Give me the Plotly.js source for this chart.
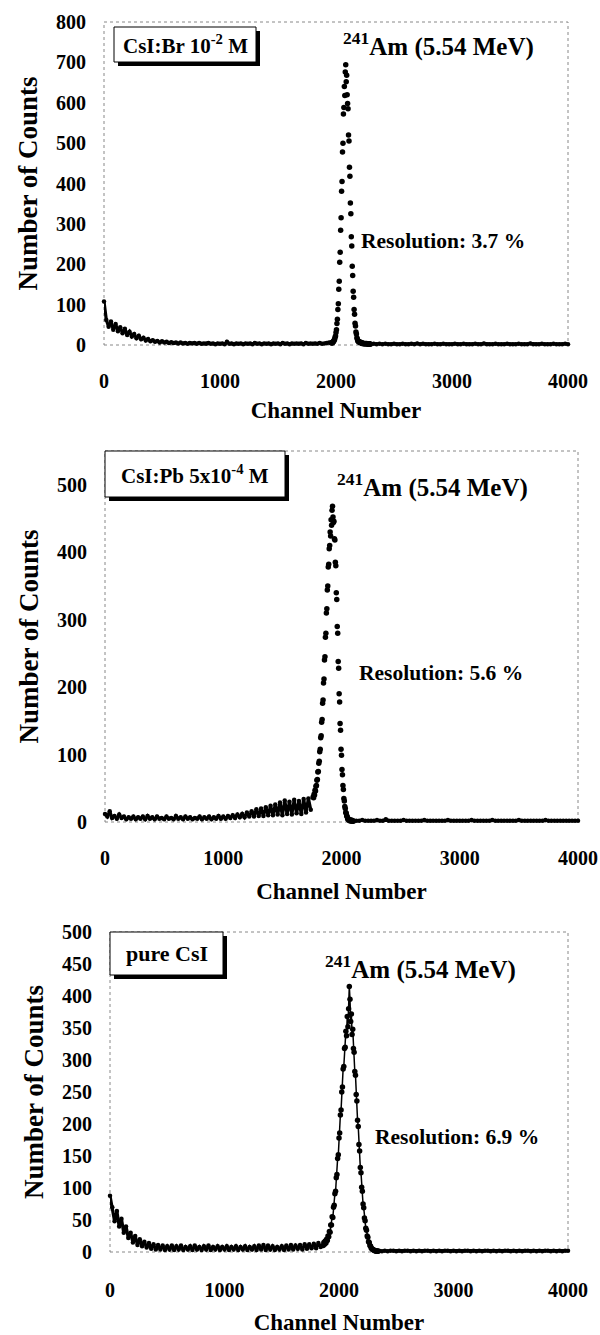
<!DOCTYPE html>
<html>
<head>
<meta charset="utf-8">
<script src="https://cdn.plot.ly/plotly-3.0.1.min.js"></script>
<style>html,body{margin:0;padding:0;background:#fff;}#chart{width:600px;height:1335px;}</style>
</head>
<body>
<div id="chart"></div>
<script>
// ---------- DATA ----------
// Panel 1: CsI:Br 10^-2 M
const brBgStart = 0, brBgStep = 20;
const brBgCounts = [108,62,45,58,38,52,34,44,29,40, 25,33,21,27,17,23,14,18,11,15, 9,12,8,10,6,9,6,8,5,7, 5,6,4,6,4,5,3,5,4,5, 3,5,3,4,3,5,3,4,2,4, 3,4,2,8,3,4,2,4,3,4, 2,4,3,4,2,5,3,4,2,4, 3,4,2,4,3,4,2,5,3,4, 2,4,3,4,3,4,2,5,3,4, 3,4,3,5,3,4,5,6];
const brPeakStart = 1960, brPeakStep = 4;
const brPeakCounts = [5,6,5,7,8,9,12,14,19,22, 31,38,53,64,88,102,138,158,205,230, 284,315,381,405,478,500,572,588,640,618, 676,694,
  652,668,620,598,585,520,505,440,418,352, 325,268,245,195,172,133,118,88,76,54, 47,32,27,18,15,10,10,8,7,8, 6,6,5,6,4,5,4,4,3,4, 3,4,3,3,4,3,3,2,3,3, 2,3,2];
const brTailStart = 2325, brTailStep = 25;
const brTailCounts = [3,2,3,2,3,2,2,3,2,2, 3,2,2,3,2,4,2,3,2,2, 2,3,2,2,3,2,2,2,3,2, 2,3,2,2,2,3,2,2,4,2, 2,2,3,2,2,2,3,2,2,2, 3,2,2,2,4,2,2,2,3,2, 2,2,3,2,2,2,3,2];

// Panel 2: CsI:Pb 5x10^-4 M
const pbBgStart = 0, pbBgStep = 20;
const pbBgCounts = [12,8,16,6,9,5,11,6,8,4, 7,5,8,4,7,5,8,4,9,5, 7,4,8,5,6,4,8,5,6,4, 9,5,7,4,8,5,7,4,6,5, 8,4,7,5,8,4,7,5,9,5,
  8,5,9,6,10,6,11,7,12,7, 14,8,16,8,19,9,20,9,22,10, 24,10,26,11,29,10,32,12,30,11, 33,13,31,12,34,14,35,18];
const pbPeakStart = 1760, pbPeakStep = 4;
const pbPeakCounts = [37,36,41,40,47,46,53,54,62,63, 74,75,87,90,104,108,125,128,148,152, 176,181,206,212,240,245,274,280,310,316, 344,350,378,382,405,410,430,424,448,440, 462,468,
  452,444,446,420,418,385,380,340,330,290, 280,238,228,190,178,146,136,108,99,78, 70,54,48,35,31,23,20,14,13,9, 8,5,4,3,4,2,3,2,2,3, 1,2,2,1];
const pbTailStart = 2125, pbTailStep = 25;
const pbTailCounts = [2,2,3,2,2,2,2,3,2,2, 4,2,2,2,2,2,3,2,2,2, 2,2,2,3,2,2,2,2,2,2, 2,3,2,2,2,2,2,2,2,3, 2,2,2,2,2,2,3,2,2,2, 2,2,2,2,2,3,2,2,2,2, 2,2,2,2,3,2,2,2,2,2, 2,2,2,2,2,2];

// Panel 3: pure CsI
const pureBgStart = 0, pureBgStep = 20;
const pureBgCounts = [88,70,48,64,40,52,30,40,22,30, 15,25,11,20,9,16,7,14,5,12, 4,11,4,10,3,9,4,10,3,9, 4,10,3,8,4,9,3,10,4,8, 3,9,4,10,3,8,4,9,3,8, 4,9,3,8,4,9,3,8,4,9, 3,8,4,9,3,10,4,11,3,10, 4,9,3,8,4,9,3,10,4,11, 4,10,5,11,4,12,5,12,6,13, 6,14,8];
const purePeakStart = 1862, purePeakStep = 6;
const purePeakCounts = [10,15,12,17,14,20,18,25,24,32, 31,42,42,55,54,70,73,91,95,116, 121,146,152,178,186,214,222,250,258,286, 290,318,320,345,338,368,352,380, 415,
  395,360,372,340,348,318,312,282,276,246, 236,206,196,168,158,132,124,101,95,75, 69,53,49,37,34,25,23,16,15,10, 9,6,5,4,3,3,2,2,1,2, 1,1];
const pureTailStart = 2350, pureTailStep = 25;
const pureTailCounts = [2,1,2,1,2,2,1,2,1,2, 2,1,2,1,2,1,2,2,1,2, 1,2,1,2,2,1,2,1,2,1, 2,2,1,2,1,2,1,2,2,1, 2,1,2,1,2,2,1,2,1,2, 1,2,2,1,2,1,2,1,2,2, 1,2,1,2,1,2,2];

const xTicks = [0, 1000, 2000, 3000, 4000];
const xTickText = ['0', '1000', '2000', '3000', '4000'];
const panelLabels = ['CsI:Br 10<sup>-2</sup> M', 'CsI:Pb 5x10<sup>-4</sup> M', 'pure CsI'];
const peakLabel = '<sup>241</sup>Am (5.54 MeV)';
const resolutionLabels = ['Resolution: 3.7 %', 'Resolution: 5.6 %', 'Resolution: 6.9 %'];
const xTitle = 'Channel Number';
const yTitle = 'Number of Counts';

// ---------- BUILD ----------
function segment(start, step, counts) {
  const x = [], y = [];
  counts.forEach((c, i) => { x.push(start + step * i); y.push(c); });
  return {x, y};
}
// continuum = background + gap + tail (dense band), peak = separate dots
function continuum(bg, tail) {
  return {x: [...bg.x, null, ...tail.x], y: [...bg.y, null, ...tail.y]};
}
const cont = [
  continuum(segment(brBgStart, brBgStep, brBgCounts), segment(brTailStart, brTailStep, brTailCounts)),
  continuum(segment(pbBgStart, pbBgStep, pbBgCounts), segment(pbTailStart, pbTailStep, pbTailCounts)),
  continuum(segment(pureBgStart, pureBgStep, pureBgCounts), segment(pureTailStart, pureTailStep, pureTailCounts))
];
const peaks = [
  segment(brPeakStart, brPeakStep, brPeakCounts),
  segment(pbPeakStart, pbPeakStep, pbPeakCounts),
  segment(purePeakStart, purePeakStep, purePeakCounts)
];
const peakLineWidth = [0, 0, 1.5];

const FONT = 'Liberation Serif, Times New Roman, serif';
const traces = [];
[0, 1, 2].forEach(i => {
  const n = i === 0 ? '' : String(i + 1);
  traces.push({x: cont[i].x, y: cont[i].y, mode: 'lines+markers', connectgaps: false,
    line: {color: '#000', width: 3.2}, marker: {color: '#000', size: 4.5},
    xaxis: 'x' + n, yaxis: 'y' + n, cliponaxis: false});
  traces.push({x: peaks[i].x, y: peaks[i].y, mode: peakLineWidth[i] ? 'lines+markers' : 'markers',
    line: {color: '#000', width: peakLineWidth[i] || 1},
    marker: {color: '#000', size: 5.5, symbol: 'circle'},
    xaxis: 'x' + n, yaxis: 'y' + n, cliponaxis: false});
});

const W = 600, H = 1335;
const px = v => v / W;
const py = v => 1 - v / H;

// panel geometry in pixels: left, right, top, bottom
const P = [
  {l: 104, r: 568, t: 22, b: 345, ymax: 800, ytop: 800, dtick: 100, xlab: 22, xtit: 10},
  {l: 105, r: 578, t: 451, b: 822, ymax: 550, ytop: 500, dtick: 100, xlab: 22, xtit: 14},
  {l: 110, r: 568, t: 932, b: 1252, ymax: 500, ytop: 500, dtick: 50, xlab: 24, xtit: 14}
];

const tickFont = {family: FONT, size: 20, color: '#000', weight: 700};
const xTitleFont = {family: FONT, size: 23, color: '#000', weight: 700};
const yTitleFont = {family: FONT, size: 27, color: '#000', weight: 700};

const layout = {
  width: W, height: H,
  margin: {l: 0, r: 0, t: 0, b: 0},
  paper_bgcolor: '#fff', plot_bgcolor: '#fff',
  showlegend: false,
  shapes: [], annotations: []
};

P.forEach((p, i) => {
  const n = i === 0 ? '' : String(i + 1);
  const yticks = [];
  for (let v = 0; v <= p.ytop; v += p.dtick) yticks.push(v);
  layout['xaxis' + n] = {
    domain: [px(p.l), px(p.r)], anchor: 'y' + n, range: [0, 4000],
    tickvals: xTicks, ticktext: xTickText, ticks: '', ticklabelstandoff: p.xlab,
    showgrid: false, zeroline: false, showline: false, fixedrange: true,
    tickfont: tickFont,
    title: {text: xTitle, font: xTitleFont, standoff: p.xtit}
  };
  layout['yaxis' + n] = {
    domain: [py(p.b), py(p.t)], anchor: 'x' + n, range: [0, p.ymax],
    tickvals: yticks, ticks: '', ticklabelstandoff: 17,
    showgrid: false, zeroline: false, showline: false, fixedrange: true,
    tickfont: tickFont,
    title: {text: yTitle, font: yTitleFont, standoff: 10}
  };
  layout.shapes.push({type: 'rect', xref: 'x' + n + ' domain', yref: 'y' + n + ' domain', x0: 0, x1: 1, y0: 0, y1: 1,
    line: {color: '#888', width: 1, dash: 'dot'}, layer: 'below'});
});

// label boxes (pixel geometry) with drop shadow
const boxes = [
  {x0: 114, x1: 256, y0: 27, y1: 62, fs: 21},
  {x0: 105, x1: 285, y0: 451, y1: 497, fs: 21},
  {x0: 110, x1: 223, y0: 932, y1: 975, fs: 22}
];
boxes.forEach((b, i) => {
  layout.shapes.push({type: 'rect', xref: 'paper', yref: 'paper', x0: px(b.x0 + 4), x1: px(b.x1 + 4), y0: py(b.y1 + 4), y1: py(b.y0 + 4),
    line: {width: 0}, fillcolor: '#000', layer: 'above'});
  layout.shapes.push({type: 'rect', xref: 'paper', yref: 'paper', x0: px(b.x0), x1: px(b.x1), y0: py(b.y1), y1: py(b.y0),
    line: {width: 1, color: '#000'}, fillcolor: '#fff', layer: 'above'});
  layout.annotations.push({xref: 'paper', yref: 'paper', x: px((b.x0 + b.x1) / 2), y: py((b.y0 + b.y1) / 2),
    xanchor: 'center', yanchor: 'middle', showarrow: false, text: panelLabels[i],
    font: {family: FONT, size: b.fs, color: '#000', weight: 700}});
});

const peakPos = [{x: 438, y: 44}, {x: 432, y: 486}, {x: 420, y: 967}];
const resPos = [{x: 443, y: 241}, {x: 441, y: 673}, {x: 457, y: 1137}];
peakPos.forEach((p, i) => {
  layout.annotations.push({xref: 'paper', yref: 'paper', x: px(p.x), y: py(p.y), xanchor: 'center', yanchor: 'middle',
    showarrow: false, text: peakLabel, font: {family: FONT, size: 25, color: '#000', weight: 700}});
  layout.annotations.push({xref: 'paper', yref: 'paper', x: px(resPos[i].x), y: py(resPos[i].y), xanchor: 'center', yanchor: 'middle',
    showarrow: false, text: resolutionLabels[i], font: {family: FONT, size: 21.5, color: '#000', weight: 700}});
});

Plotly.newPlot('chart', traces, layout, {displayModeBar: false, staticPlot: true});
</script>
</body>
</html>
